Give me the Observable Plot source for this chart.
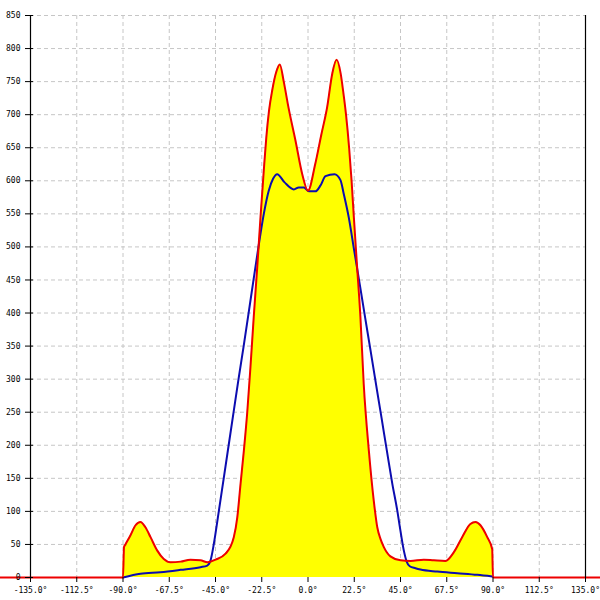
<!DOCTYPE html>
<html>
<head>
<meta charset="utf-8">
<script src="https://cdn.jsdelivr.net/npm/d3@7"></script>
<script src="https://cdn.jsdelivr.net/npm/@observablehq/plot@0.6"></script>
<style>
  html, body { margin: 0; padding: 0; background: #fff; }
  #chart svg { display: block; }
</style>
</head>
<body>
<div id="chart"></div>
<script>
// Tick values
const xTicks = [-135, -112.5, -90, -67.5, -45, -22.5, 0, 22.5, 45, 67.5, 90, 112.5, 135];
const yTicks = [0, 50, 100, 150, 200, 250, 300, 350, 400, 450, 500, 550, 600, 650, 700, 750, 800, 850];

// Red series (filled yellow underneath): angle (deg) and value
const redAngle = [-150, -90, -89.5, -88.8, -86.35, -83.9, -81.5, -79.1, -76.6, -73.4, -70.15, -66.9, -62.0, -57.2, -52.3, -48.9, -45.0, -40.1, -36.1, -34.4, -32.8, -31.2, -29.6, -28.0, -26.4, -24.7, -23.1, -21.5, -20.3, -19.0, -17.4, -15.3, -13.7, -11.8, -9.5, -6.1, -2.8, 0, 3.5, 6.5, 9.3, 11.8, 13.9, 15.9, 17.0, 18.5, 20.0, 21.2, 22.3, 23.9, 25.5, 27.1, 29.6, 32.0, 33.7, 35.3, 36.9, 40.1, 45.0, 49.9, 56.3, 61.2, 66.9, 70.9, 75.0, 79.0, 81.5, 83.9, 87.2, 89.6, 90, 150];
const redValue = [0, 0, 46, 50, 64, 79, 84, 76, 61, 41, 28, 23, 24, 27, 26, 23, 27, 36, 61, 91, 142, 192, 248, 318, 394, 469, 545, 616, 665, 705, 737, 766, 776, 750, 711, 661, 610, 585, 625, 670, 711, 762, 783, 762, 738, 700, 650, 600, 545, 469, 394, 293, 192, 116, 76, 58, 46, 32, 26, 25, 27, 26, 25, 38, 61, 81, 84, 79, 61, 43, 0, 0];

// Blue series
const blueAngle = [-90, -81.5, -71.8, -62.0, -52.3, -49.0, -47.4, -45.8, -43.4, -41.0, -38.6, -36.2, -33.8, -31.3, -28.9, -26.5, -24.1, -21.5, -19.1, -17.0, -15.0, -11.5, -6.9, -4.5, -2.0, 0.4, 3.6, 6.1, 8.5, 12.9, 15.8, 17.4, 19.8, 22.5, 25.2, 27.8, 30.5, 33.1, 35.8, 38.4, 41.0, 43.5, 44.5, 46.6, 48.0, 49.5, 52.3, 54.7, 62.9, 72.6, 82.3, 89.6];
const blueValue = [0, 5.6, 8, 11.6, 15.6, 18, 26, 51, 100, 150, 200, 250, 300, 350, 400, 450, 500, 550, 585, 603, 610, 598, 587, 590, 590, 584, 584, 593, 607, 610, 601, 580, 545, 494, 443, 393, 342, 292, 241, 191, 142, 100, 80, 41, 24, 17, 14, 12, 9, 6.5, 4, 1.5];

const red = redAngle.map((a, i) => ({angle: a, value: redValue[i]}));
const blue = blueAngle.map((a, i) => ({angle: a, value: blueValue[i]}));
const redInside = red.filter(d => d.angle >= -90 && d.angle <= 90);

const gridColor = "#c6c6c6";
const curve = "monotone-x";

const chart = Plot.plot({
  width: 600,
  height: 600,
  marginLeft: 30,
  marginRight: 15,
  marginTop: 15,
  marginBottom: 23,
  style: {fontFamily: "DejaVu Sans Mono", fontSize: "8px", background: "#fff", color: "#000"},
  x: {domain: [-135, 135], axis: null, label: null},
  y: {domain: [0, 850], axis: null, label: null},
  marks: [
    Plot.ruleY(yTicks.filter(d => d > 0), {stroke: gridColor, strokeDasharray: "4,3", strokeWidth: 1}),
    Plot.ruleX(xTicks.filter(d => d > -135 && d < 135), {stroke: gridColor, strokeDasharray: "4,3", strokeWidth: 1}),
    Plot.areaY(redInside, {x: "angle", y: "value", fill: "#ffff00", curve}),
    Plot.lineY(blue, {x: "angle", y: "value", stroke: "#0c0cb0", strokeWidth: 2, curve}),
    Plot.lineY(red, {x: "angle", y: "value", stroke: "#ee0000", strokeWidth: 2, curve, clip: false}),
    Plot.ruleX([-135, 135], {stroke: "#000", strokeWidth: 1.2}),
    Plot.axisY(yTicks, {anchor: "left", label: null, tickSize: 8, dx: 3, tickPadding: 5, tickFormat: d => String(d), stroke: "#000", fill: "#000"}),
    Plot.axisX(xTicks, {anchor: "bottom", label: null, tickSize: 5, tickPadding: 5, tickFormat: d => d.toFixed(1) + "°", stroke: "#000", fill: "#000"})
  ]
});
document.getElementById("chart").appendChild(chart);
</script>
</body>
</html>
